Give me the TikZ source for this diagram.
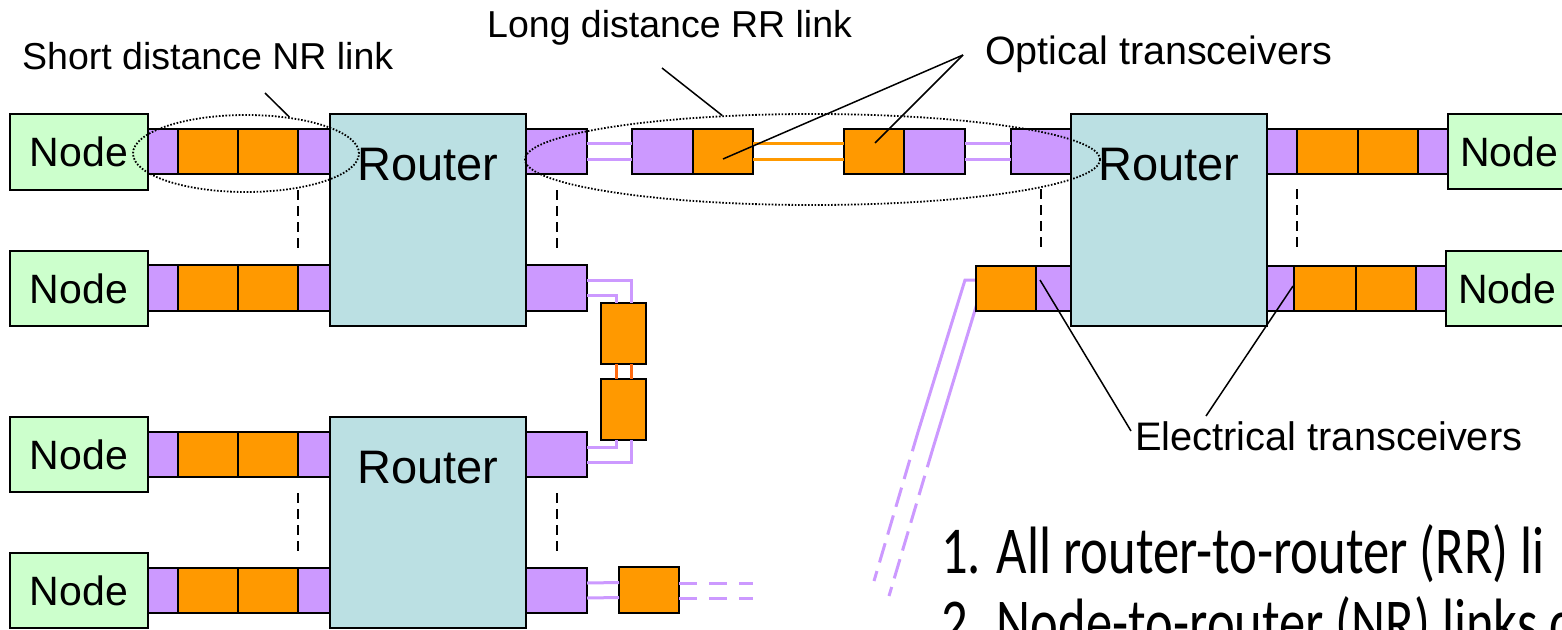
\documentclass[tikz,border=0pt]{standalone}
\usepackage{fontspec}
\setmainfont{Liberation Sans}
\newfontfamily\calib[FakeStretch=0.785]{Carlito}
\usetikzlibrary{shapes.geometric,calc}
\definecolor{nodegreen}{HTML}{CCFFCC}
\definecolor{routerblue}{HTML}{BBE0E3}
\definecolor{purp}{HTML}{CC99FF}
\definecolor{orng}{HTML}{FF9900}
\definecolor{orred}{HTML}{FF6A10}
\newcommand\bx[7]{\node[#2,anchor=north west,minimum width={(#5-#3)*1pt},minimum height={(#6-#4)*1pt}] (#1) at (#3,#4) {#7};}
\tikzset{
  box/.style={rectangle, draw=black, line width=1.8pt, inner sep=0pt, outer sep=0pt},
  nodeb/.style={box, fill=nodegreen, font=\fontsize{41}{48}\selectfont},
  routerb/.style={box, fill=routerblue},
  pb/.style={box, fill=purp},
  ob/.style={box, fill=orng},
  plink/.style={purp, line width=3pt},
  olink/.style={orng, line width=3pt},
  rlink/.style={orred, line width=3pt},
  vdash/.style={black, line width=2pt, dash pattern=on 10pt off 6pt},
  ring/.style={ellipse, draw=black, line width=1.8pt, dash pattern=on 1.6pt off 1.7pt, inner sep=0pt},
  leader/.style={black, line width=1.5pt},
  lbl/.style={inner sep=0pt, anchor=base west, font=\fontsize{37.5}{44}\selectfont},
  rtxt/.style={inner sep=0pt, anchor=base, font=\fontsize{47}{56}\selectfont},
  btxt/.style={inner sep=0pt, anchor=base west, font=\calib\fontsize{67}{72}\selectfont},
}
\begin{document}
\begin{tikzpicture}[x=1pt,y=-1pt]
\useasboundingbox (0,0) rectangle (1562,629);
\clip (0,0) rectangle (1562,629);
% ---------- boxes ----------
% routers
\bx{R1}{routerb}{330}{114}{526}{326}{}
\bx{R2}{routerb}{330}{417}{526}{628}{}
\bx{R3}{routerb}{1071}{114}{1267}{326}{}
% left nodes and strips
\bx{n1}{nodeb}{10}{114}{148}{190}{Node}
\bx{n2}{nodeb}{10}{251}{148}{326}{Node}
\bx{n3}{nodeb}{10}{417}{148}{492}{Node}
\bx{n4}{nodeb}{10}{553}{148}{628}{Node}
\bx{p1a}{pb}{148}{129}{178}{174}{}\bx{o1a}{ob}{178}{129}{238}{174}{}\bx{o1b}{ob}{238}{129}{298}{174}{}\bx{p1b}{pb}{298}{129}{330}{174}{}
\bx{p2a}{pb}{148}{265}{178}{311}{}\bx{o2a}{ob}{178}{265}{238}{311}{}\bx{o2b}{ob}{238}{265}{298}{311}{}\bx{p2b}{pb}{298}{265}{330}{311}{}
\bx{p3a}{pb}{148}{432}{178}{477}{}\bx{o3a}{ob}{178}{432}{238}{477}{}\bx{o3b}{ob}{238}{432}{298}{477}{}\bx{p3b}{pb}{298}{432}{330}{477}{}
\bx{p4a}{pb}{148}{568}{178}{613}{}\bx{o4a}{ob}{178}{568}{238}{613}{}\bx{o4b}{ob}{238}{568}{298}{613}{}\bx{p4b}{pb}{298}{568}{330}{613}{}
% router right ports
\bx{q1}{pb}{526}{129}{587}{174}{}
\bx{q2}{pb}{526}{265}{587}{311}{}
\bx{q3}{pb}{526}{432}{587}{477}{}
\bx{q4}{pb}{526}{568}{587}{613}{}
% top long link
\bx{pE}{pb}{632}{129}{693}{174}{}\bx{oF}{ob}{693}{129}{753}{174}{}
\bx{oG}{ob}{844}{129}{904}{174}{}\bx{pH}{pb}{904}{129}{965}{174}{}
\bx{pI}{pb}{1011}{129}{1071}{174}{}
\draw[plink] ([yshift=8pt]q1.east) -- ([yshift=8pt]pE.west);
\draw[plink] ([yshift=-8pt]q1.east) -- ([yshift=-8pt]pE.west);
\draw[olink] ([yshift=8pt]oF.east) -- ([yshift=8pt]oG.west);
\draw[olink] ([yshift=-8pt]oF.east) -- ([yshift=-8pt]oG.west);
\draw[plink] ([yshift=8pt]pH.east) -- ([yshift=8pt]pI.west);
\draw[plink] ([yshift=-8pt]pH.east) -- ([yshift=-8pt]pI.west);
% vertical link between routers
\bx{oA}{ob}{601}{303}{646}{364}{}
\bx{oB}{ob}{601}{379}{646}{440}{}
\draw[plink] ([yshift=8pt]q2.east) -| ([xshift=8pt]oA.north);
\draw[plink] ([yshift=-7pt]q2.east) -| ([xshift=-7pt]oA.north);
\draw[rlink] ([xshift=-7pt]oA.south) -- ([xshift=-7pt]oB.north);
\draw[rlink] ([xshift=8pt]oA.south) -- ([xshift=8pt]oB.north);
\draw[plink] ([xshift=-7pt]oB.south) |- ([yshift=7.5pt]q3.east);
\draw[plink] ([xshift=8pt]oB.south) |- ([yshift=-7.5pt]q3.east);
% bottom right link
\bx{oC}{ob}{619}{567}{679}{613}{}
\coordinate (c1) at (753,583);
\coordinate (c2) at (753,598);
\draw[plink] ([yshift=7.5pt]q4.east) -- ([yshift=7.5pt]oC.west);
\draw[plink] ([yshift=-7.5pt]q4.east) -- ([yshift=-7.5pt]oC.west);
\draw[plink, dash pattern=on 18pt off 12pt] ([yshift=7pt]oC.east) -- (c1);
\draw[plink, dash pattern=on 18pt off 12pt] ([yshift=-8pt]oC.east) -- (c2);
% slanted link from right router
\coordinate (d0) at (978,280);
\coordinate (d1) at (965,280);
\coordinate (d2) at (918,432);
\coordinate (d3) at (874,581);
\coordinate (e0) at (979,297);
\coordinate (e1) at (933,448);
\coordinate (e2) at (889,596);
\draw[plink] (d0) -- (d1) -- (d2);
\draw[plink, dash pattern=on 20pt off 9pt] (d2) -- (d3);
\draw[plink] (e0) -- (e1);
\draw[plink, dash pattern=on 20pt off 9pt] (e1) -- (e2);
\bx{oD}{ob}{976}{266}{1036}{311}{}\bx{pD}{pb}{1036}{266}{1071}{311}{}
% right side strips and nodes
\bx{s1a}{pb}{1267}{129}{1297}{174}{}\bx{t1a}{ob}{1297}{129}{1358}{174}{}\bx{t1b}{ob}{1358}{129}{1418}{174}{}\bx{s1b}{pb}{1418}{129}{1448}{174}{}
\bx{n5}{nodeb}{1448}{114}{1570}{189}{Node}
\bx{s2a}{pb}{1267}{266}{1294}{311}{}\bx{t2a}{ob}{1294}{266}{1356}{311}{}\bx{t2b}{ob}{1356}{266}{1416}{311}{}\bx{s2b}{pb}{1416}{266}{1446}{311}{}
\bx{n6}{nodeb}{1446}{251}{1568}{326}{Node}
% router texts
\node[rtxt] (r1t) at (428,180) {Router};
\node[rtxt] (r2t) at (428,483) {Router};
\node[rtxt] (r3t) at (1169,180) {Router};
% ---------- dashed separators ----------
\draw[vdash] ([yshift=-16pt]o1b.south east) -- ++(0,60);
\draw[vdash] ([yshift=-16pt]q1.south) -- ++(0,60);
\draw[vdash] ([yshift=-16pt]o3b.south east) -- ++(0,60);
\draw[vdash] ([yshift=-16pt]q3.south) -- ++(0,60);
\draw[vdash] ([yshift=-15pt]pI.south) -- ++(0,61);
\draw[vdash] ([yshift=-15pt]t1a.south west) -- ++(0,61);
% ---------- ellipses ----------
\node[ring, minimum width=226pt, minimum height=77pt] (eS) at (246,153.5) {};
\node[ring, minimum width=575pt, minimum height=91pt] (eL) at (812.5,159.5) {};
% ---------- labels ----------
\node[lbl] (tS) at (22,69) {Short distance NR link};
\node[lbl] (tL) at (487,37) {Long distance RR link};
\node[lbl, font=\fontsize{39.5}{46}\selectfont] (tO) at (985,64) {Optical transceivers};
\node[lbl, font=\fontsize{39.8}{46}\selectfont] (tE) at (1135,450) {Electrical transceivers};
\coordinate (lS) at (265,93);
\draw[leader] (lS) -- (eS.40);
\coordinate (lL) at (662,68);
\draw[leader] (lL) -- (eL.154);
\coordinate (lO) at (963,55);
\draw[leader] (lO) -- ([yshift=-7.5pt]oF.center);
\draw[leader] (lO) -- ([shift={(1pt,8.5pt)}]oG.center);
\coordinate (lE1) at (1131,431);
\draw[leader] (lE1) -- ([shift={(-13.5pt,8.5pt)}]pD.center);
\coordinate (lE2) at (1206,416);
\draw[leader] (lE2) -- ([shift={(12.5pt,2.5pt)}]s2a.center);
% ---------- bottom text ----------
\node[btxt] (b1) at (941,573) {1. All router-to-router (RR) li};
\node[btxt] (b2) at (941,645) {2. Node-to-router (NR) links c};
\end{tikzpicture}
\end{document}
